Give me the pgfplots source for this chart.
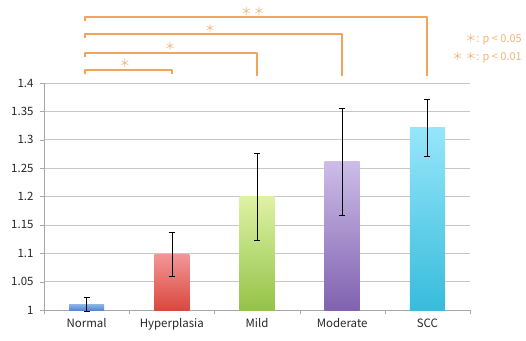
\documentclass[border=0pt]{standalone}
\usepackage{pgfplots}
\pgfplotsset{compat=1.18}
\usepackage{fontspec}
\setmainfont{Noto Sans CJK JP}
\definecolor{brk}{RGB}{240,165,90}
\definecolor{sig}{RGB}{243,180,120}
\definecolor{nT}{RGB}{140,180,232}\definecolor{nB}{RGB}{85,135,210}
\definecolor{hT}{RGB}{242,150,150}\definecolor{hB}{RGB}{218,72,62}
\definecolor{mT}{RGB}{222,242,165}\definecolor{mB}{RGB}{148,195,72}
\definecolor{oT}{RGB}{205,188,232}\definecolor{oB}{RGB}{128,98,175}
\definecolor{sT}{RGB}{150,230,250}\definecolor{sB}{RGB}{55,188,220}
\begin{document}
\begin{tikzpicture}
\useasboundingbox (-44bp,-31bp) rectangle (482bp,310bp);
\begin{axis}[
  scale only axis, width=426bp, height=227bp,
  xmin=-0.5, xmax=4.5, ymin=1, ymax=1.4,
  xtick={0,1,2,3,4},
  xticklabels={Normal,Hyperplasia,Mild,Moderate,SCC},
  major x tick style={draw=none},
  minor xtick={-0.5,0.5,1.5,2.5,3.5,4.5},
  minor x tick style={gray!70},
  ytick={1,1.05,1.1,1.15,1.2,1.25,1.3,1.35,1.4},
  yticklabels={1,1.05,1.1,1.15,1.2,1.25,1.3,1.35,1.4},
  ymajorgrids, grid style={gray!45, line width=0.6pt},
  axis x line*=bottom, axis y line*=left,
  axis line style={gray!70},
  tick style={gray!70}, tick align=outside,
  major tick length=4bp, minor tick length=4bp,
  ticklabel style={font=\fontsize{11.5}{13}\selectfont, text=black!85},
  yticklabel style={xshift=-3bp},
  xticklabel style={yshift=-1bp},
  clip=false,
]
% bars
\addplot[draw=none, top color=nT, bottom color=nB] coordinates {(-0.205,1) (-0.205,1.01) (0.205,1.01) (0.205,1)} -- cycle;
\addplot[draw=none, top color=hT, bottom color=hB] coordinates {(0.795,1) (0.795,1.098) (1.205,1.098) (1.205,1)} -- cycle;
\addplot[draw=none, top color=mT, bottom color=mB] coordinates {(1.795,1) (1.795,1.2) (2.205,1.2) (2.205,1)} -- cycle;
\addplot[draw=none, top color=oT, bottom color=oB] coordinates {(2.795,1) (2.795,1.261) (3.205,1.261) (3.205,1)} -- cycle;
\addplot[draw=none, top color=sT, bottom color=sB] coordinates {(3.795,1) (3.795,1.321) (4.205,1.321) (4.205,1)} -- cycle;
% error bars
\addplot[draw=none, mark=none,
  error bars/.cd, y dir=both, y explicit,
  error bar style={draw=black, line width=0.6pt},
  error mark options={draw=black, rotate=90, mark size=3bp, line width=0.6pt}]
  coordinates {
  (0,1.01) +- (0,0.012)
  (1,1.098) +- (0,0.039)
  (2,1.2) +- (0,0.077)
  (3,1.261) +- (0,0.094)
  (4,1.321) +- (0,0.05)
  };
% significance brackets
\addplot[brk, line width=1.9bp, mark=none, line join=round] coordinates {(-0.02,1.416) (-0.02,1.423) (1,1.423) (1,1.416)};
\addplot[brk, line width=1.9bp, mark=none, line join=round] coordinates {(-0.02,1.446) (-0.02,1.453) (2,1.453) (2,1.412)};
\addplot[brk, line width=1.9bp, mark=none, line join=round] coordinates {(-0.02,1.479) (-0.02,1.486) (3,1.486) (3,1.412)};
\addplot[brk, line width=1.9bp, mark=none, line join=round] coordinates {(-0.02,1.509) (-0.02,1.516) (4,1.516) (4,1.412)};
\node[text=sig, font=\fontsize{11}{12}\selectfont] at (axis cs:0.45,1.434) {＊};
\node[text=sig, font=\fontsize{11}{12}\selectfont] at (axis cs:0.98,1.464) {＊};
\node[text=sig, font=\fontsize{11}{12}\selectfont] at (axis cs:1.45,1.497) {＊};
\node[text=sig, font=\fontsize{11}{12}\selectfont] at (axis cs:1.95,1.527) {＊\,＊};
\node[text=sig, anchor=east, font=\fontsize{11}{12}\selectfont, inner sep=0pt] at (axis cs:5.11,1.476) {＊: p < 0.05};
\node[text=sig, anchor=east, font=\fontsize{11}{12}\selectfont, inner sep=0pt] at (axis cs:5.11,1.444) {＊ ＊: p < 0.01};
\end{axis}
\end{tikzpicture}
\end{document}
